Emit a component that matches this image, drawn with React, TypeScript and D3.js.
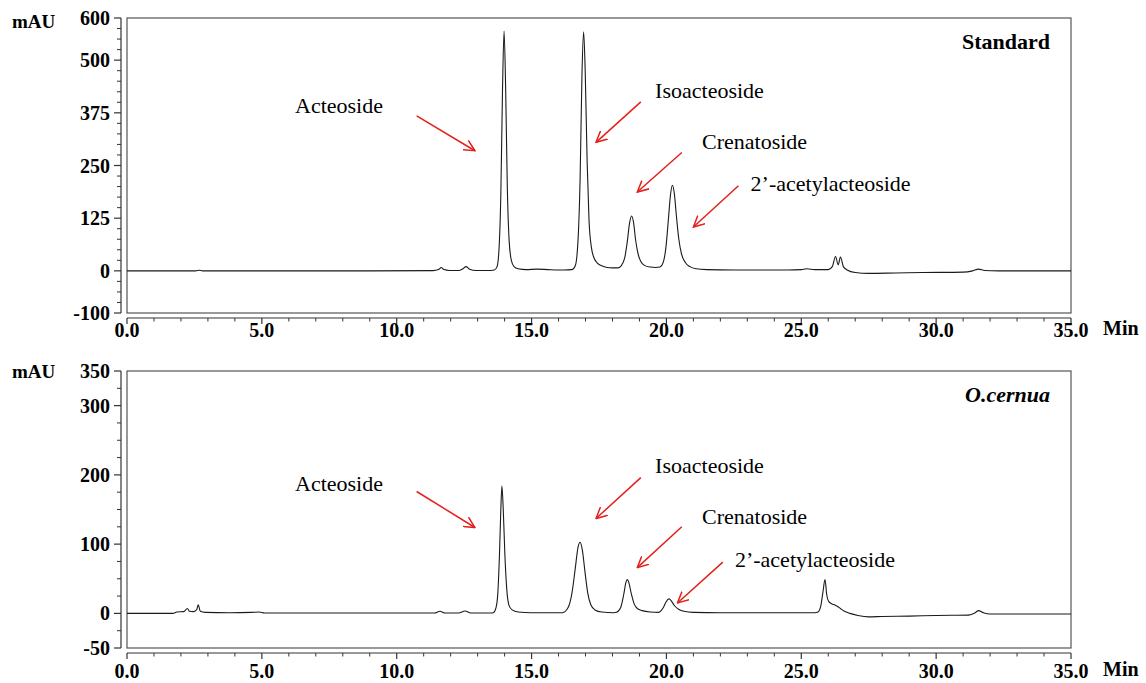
import React from 'react';
import * as d3 from 'd3';

// retention time (min), absorbance (mAU)
const standardTrace: [number, number][] = [
  [0, 0], [2.55, 0], [2.68, 1.5], [2.8, 0], [6, 0], [9, 0], [11.35, 0.5], [11.55, 3], [11.65, 8], [11.75, 3],
  [11.95, 1], [12.3, 1], [12.45, 5], [12.57, 10], [12.7, 4], [12.95, 1], [13.5, 1], [13.62, 2],
  [13.72, 10], [13.8, 60], [13.86, 180], [13.92, 420], [13.98, 569], [14.04, 430], [14.1, 200], [14.17, 70],
  [14.25, 25], [14.35, 10], [14.5, 5], [14.8, 3], [15.2, 4], [15.6, 3], [16.2, 2], [16.5, 3],
  [16.62, 12], [16.72, 70], [16.8, 220], [16.87, 470], [16.93, 567], [16.99, 470], [17.06, 260], [17.13, 120],
  [17.22, 55], [17.32, 30], [17.45, 18], [17.6, 12], [17.8, 8], [18.0, 7], [18.2, 7],
  [18.32, 12], [18.45, 30], [18.55, 70], [18.63, 112], [18.71, 130], [18.78, 115], [18.86, 72], [18.95, 40],
  [19.05, 22], [19.18, 13], [19.4, 9], [19.6, 8], [19.76, 9],
  [19.88, 20], [19.98, 55], [20.07, 120], [20.15, 180], [20.22, 203], [20.29, 185], [20.37, 130], [20.46, 75],
  [20.56, 40], [20.7, 20], [20.87, 10], [21.1, 5], [21.5, 3], [22.5, 2], [24.5, 2], [25.0, 3], [25.2, 5],
  [25.5, 3], [26.0, 3], [26.15, 10], [26.27, 34], [26.37, 14], [26.45, 33], [26.56, 10], [26.7, 2],
  [27.0, -4], [27.5, -6], [28.5, -5], [29.5, -4], [31.0, -3], [31.35, 0], [31.57, 4], [31.8, 1], [32.3, 0], [35, 0],
];

const cernuaTrace: [number, number][] = [
  [0, 0], [1.7, 0], [1.85, 2], [2.1, 2.5], [2.24, 7], [2.32, 3], [2.45, 2.5], [2.58, 5], [2.64, 12.5], [2.72, 3],
  [2.9, 1.5], [3.8, 1], [4.6, 1.5], [4.9, 2], [5.1, 0.5], [7, 0.5], [9, 0.5], [11.4, 0.5], [11.6, 3], [11.8, 0.5],
  [12.3, 0.5], [12.53, 3.5], [12.75, 0.5], [13.5, 0.5],
  [13.58, 1], [13.68, 8], [13.75, 30], [13.81, 85], [13.86, 150], [13.9, 184], [13.95, 150], [14.01, 85],
  [14.08, 35], [14.16, 12], [14.28, 5], [14.5, 2], [15, 1],
  [16.15, 1], [16.35, 8], [16.5, 30], [16.62, 65], [16.72, 95], [16.8, 102.7], [16.88, 92], [16.98, 60],
  [17.08, 30], [17.2, 12], [17.35, 5], [17.6, 2], [18.05, 1],
  [18.15, 1.5], [18.3, 8], [18.42, 28], [18.5, 45], [18.55, 48.7], [18.61, 44], [18.7, 28], [18.8, 14],
  [18.92, 7], [19.1, 4], [19.4, 2], [19.7, 1.5],
  [19.75, 2], [19.88, 8], [19.98, 16], [20.06, 20.5], [20.1, 21], [20.18, 18], [20.3, 11], [20.45, 6],
  [20.65, 3], [21, 1.5], [22, 1], [24, 1], [25.5, 1],
  [25.62, 2], [25.72, 10], [25.8, 30], [25.88, 48.7], [25.94, 28], [26.02, 17], [26.12, 14], [26.25, 12],
  [26.35, 10], [26.45, 7], [26.6, 3], [26.8, 0], [27.1, -3], [27.5, -5], [28, -4.5], [29, -4], [30, -3],
  [31.2, -2.5], [31.45, 1], [31.57, 4], [31.75, 1], [32, -1], [33, -1], [35, -1],
];

const xMajorTicks = [0, 5, 10, 15, 20, 25, 30, 35];
const standardYTicks = [600, 500, 375, 250, 125, 0, -100];
const cernuaYTicks = [350, 300, 200, 100, 0, -50];

const compoundNames = ['Acteoside', 'Isoacteoside', 'Crenatoside', '2\u2019-acetylacteoside'];
// text position [t, mAU]
const standardLabelPos: [number, number][] = [[6.23, 374], [19.58, 409], [21.32, 289], [23.12, 190]];
const cernuaLabelPos: [number, number][] = [[6.23, 176], [19.58, 202], [21.32, 129], [22.54, 67]];
// arrow [tail t, tail mAU, head t, head mAU]
const standardArrows: number[][] = [
  [10.74, 368, 12.9, 285], [19.05, 401, 17.39, 305], [20.57, 281, 18.92, 187], [22.67, 202, 21.0, 104],
];
const cernuaArrows: number[][] = [
  [10.74, 176, 12.9, 124], [19.05, 196, 17.39, 137], [20.57, 125, 18.92, 66], [22.09, 74, 20.41, 15],
];

const SERIF = "'Liberation Serif', 'Times New Roman', Times, 'DejaVu Serif', serif";
const RED = '#e3201d';

const SText = ({ x, y, anchor = 'start', sx = 1, size = 20, weight = 'bold', italic = false, children }: any) => (
  <text
    transform={`translate(${x},${y}) scale(${sx},1)`}
    textAnchor={anchor}
    style={{
      fontFamily: SERIF,
      fontSize: size,
      fontWeight: weight,
      fontStyle: italic ? 'italic' : 'normal',
    }}
    fill="#000"
  >
    {children}
  </text>
);

const Panel = ({ top, bottom, yDomain, yTicks, trace, title, italic, labelPos, arrows, xLabelY, mauY }: any) => {
  const x = d3.scaleLinear().domain([0, 35]).range([127, 1071]);
  const y = d3.scaleLinear().domain(yDomain).range([bottom, top]);
  const line = d3.line<[number, number]>()
    .x(d => x(d[0]))
    .y(d => y(d[1]))
    .curve(d3.curveMonotoneX);
  const yMinor = d3.range(yDomain[0], yDomain[1] + 0.1, 25).filter(v => !yTicks.includes(v));
  const xMinor = d3.range(0, 35.01, 1).filter(v => v % 5 !== 0);
  const axisY = bottom + 5;

  return (
    <g>
      {/* plot box */}
      <rect x={127} y={top} width={1071 - 127} height={bottom - top} fill="none" stroke="#555" strokeWidth={1.2} />
      {/* y axis */}
      <line x1={121} x2={121} y1={top} y2={bottom} stroke="#333" strokeWidth={1.2} />
      {yTicks.map((v: number) => (
        <g key={v}>
          <line x1={114} x2={121} y1={y(v)} y2={y(v)} stroke="#333" strokeWidth={1.2} />
          <SText x={110} y={y(v) + 7} anchor="end">{v}</SText>
        </g>
      ))}
      {yMinor.map((v: number) => (
        <line key={v} x1={117} x2={121} y1={y(v)} y2={y(v)} stroke="#333" strokeWidth={1} />
      ))}
      <SText x={12} y={mauY} size={19}>mAU</SText>
      {/* x axis */}
      <line x1={127} x2={1071} y1={axisY} y2={axisY} stroke="#333" strokeWidth={1.2} />
      {xMajorTicks.map(v => (
        <g key={v}>
          <line x1={x(v)} x2={x(v)} y1={axisY} y2={axisY + 6} stroke="#333" strokeWidth={1.2} />
          <SText x={x(v)} y={xLabelY} anchor="middle">{v.toFixed(1)}</SText>
        </g>
      ))}
      {xMinor.map(v => (
        <line key={v} x1={x(v)} x2={x(v)} y1={axisY} y2={axisY + 3.5} stroke="#333" strokeWidth={1} />
      ))}
      <SText x={1103} y={xLabelY - 2}>Min</SText>
      {/* chromatogram */}
      <path d={line(trace) || ''} fill="none" stroke="#1a1a1a" strokeWidth={1.1} />
      {/* title */}
      <SText x={1050} y={top + 31} anchor="end" size={22} italic={italic}>{title}</SText>
      {/* annotations */}
      {compoundNames.map((name, i) => (
        <g key={name}>
          <SText x={x(labelPos[i][0])} y={y(labelPos[i][1])} size={22} weight="normal">{name}</SText>
          <line
            x1={x(arrows[i][0])} y1={y(arrows[i][1])}
            x2={x(arrows[i][2])} y2={y(arrows[i][3])}
            stroke={RED} strokeWidth={1.5} markerEnd="url(#ah)"
          />
        </g>
      ))}
    </g>
  );
};

export default function App() {
  return (
    <svg
      width={1146}
      height={683}
      style={{ position: 'absolute', left: 0, top: 0, background: '#fff' }}
    >
      <defs>
        <marker id="ah" viewBox="0 0 12 12" refX={11} refY={6} markerWidth={12} markerHeight={12}
          markerUnits="userSpaceOnUse" orient="auto">
          <path d="M0,0.5 L11,6 L0,11.5" fill="none" stroke={RED} strokeWidth={1.5} />
        </marker>
      </defs>
      <Panel
        top={18} bottom={313} yDomain={[-100, 600]} yTicks={standardYTicks}
        trace={standardTrace} title="Standard" italic={false}
        labelPos={standardLabelPos} arrows={standardArrows}
        xLabelY={337} mauY={28}
      />
      <Panel
        top={371} bottom={648} yDomain={[-50, 350]} yTicks={cernuaYTicks}
        trace={cernuaTrace} title="O.cernua" italic={true}
        labelPos={cernuaLabelPos} arrows={cernuaArrows}
        xLabelY={678} mauY={378}
      />
    </svg>
  );
}
